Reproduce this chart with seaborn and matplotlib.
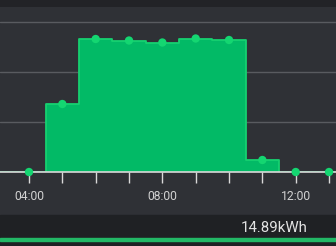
import numpy as np
import pandas as pd
import matplotlib
matplotlib.use("Agg")
import matplotlib.pyplot as plt
import seaborn as sns
from matplotlib.patches import Rectangle

# ---- data ----
hours = [3, 4, 5, 6, 7, 8, 9, 10, 11, 12, 13, 14]
energy_kwh = [0.0, 0.0, 1.36, 2.66, 2.63, 2.59, 2.67, 2.64, 0.24, 0.0, 0.0, 0.0]
tick_hours = [4, 8, 12]
tick_labels = ["04:00", "08:00", "12:00"]
total_label = "14.89kWh"

df = pd.DataFrame({"hour": hours, "kwh": energy_kwh})

BG = "#2f3136"
TOP = "#222327"
BOTTOM = "#1f2124"
FILL = "#02ba66"
LINE = "#16d170"
MARK = "#14d671"
GRID = "#595b60"
AXIS = "#d9d9d9"
TEXT = "#d2d2d2"

sns.set_theme(style="dark")
plt.rcParams["font.family"] = ["Roboto", "DejaVu Sans"]

W, H = 336, 246
fig = plt.figure(figsize=(W / 100, H / 100), dpi=100, facecolor=BG)

# axes from y=7 (top) to y=172 (baseline), full width
ax_bottom = (H - 172) / H
ax_top = (H - 7) / H
ax = fig.add_axes([0, ax_bottom, 1, ax_top - ax_bottom])
ax.set_facecolor(BG)

px_per_hour = (295.7 - 29) / 8
xmin = 4 - 29 / px_per_hour
xmax = 12 + (W - 295.7) / px_per_hour
ax.set_xlim(xmin, xmax)
ax.set_ylim(0, (172 - 7) / 50)

# grid lines
for g in [1, 2, 3]:
    ax.axhline(g, color=GRID, lw=1.0, zorder=0.5)

ax.fill_between(df["hour"], df["kwh"], 0, step="mid", color=FILL, lw=0, zorder=1)
sns.lineplot(data=df, x="hour", y="kwh", drawstyle="steps-mid", color=LINE,
             lw=1.3, ax=ax, zorder=2, legend=False)
ax.axhline(0, color=AXIS, lw=1.2, zorder=3, clip_on=False)
sns.scatterplot(data=df, x="hour", y="kwh", color=MARK, s=36, edgecolor="none",
                ax=ax, zorder=4, legend=False, clip_on=False)

for s in ax.spines.values():
    s.set_visible(False)
ax.set_yticks([])
ax.set_xticks(tick_hours)
ax.set_xticklabels(tick_labels)
ax.set_xticks(list(range(4, 14)), minor=True)
ax.tick_params(axis="x", which="both", direction="out", length=8, width=1,
               color=AXIS, bottom=True)
ax.tick_params(axis="x", which="major", labelsize=8.7, labelcolor=TEXT, pad=5)
ax.set_xlabel("")
ax.set_ylabel("")
ax.grid(False)

# decorative strips
fig.patches.append(Rectangle((0, (H - 7) / H), 1, 7 / H, transform=fig.transFigure,
                             color=TOP, zorder=-1))
fig.patches.append(Rectangle((0, 0), 1, (H - 214.7) / H, transform=fig.transFigure,
                             color=BOTTOM, zorder=-1))
fig.patches.append(Rectangle((0, (H - 241) / H), 1, 3 / H, transform=fig.transFigure,
                             color="#22b866", zorder=0))

fig.text(274.5 / W, (H - 227.5) / H, total_label, ha="center", va="center",
         fontsize=10.8, color="#e2e2e2")

fig.savefig("out.png", dpi=100, facecolor=BG)
